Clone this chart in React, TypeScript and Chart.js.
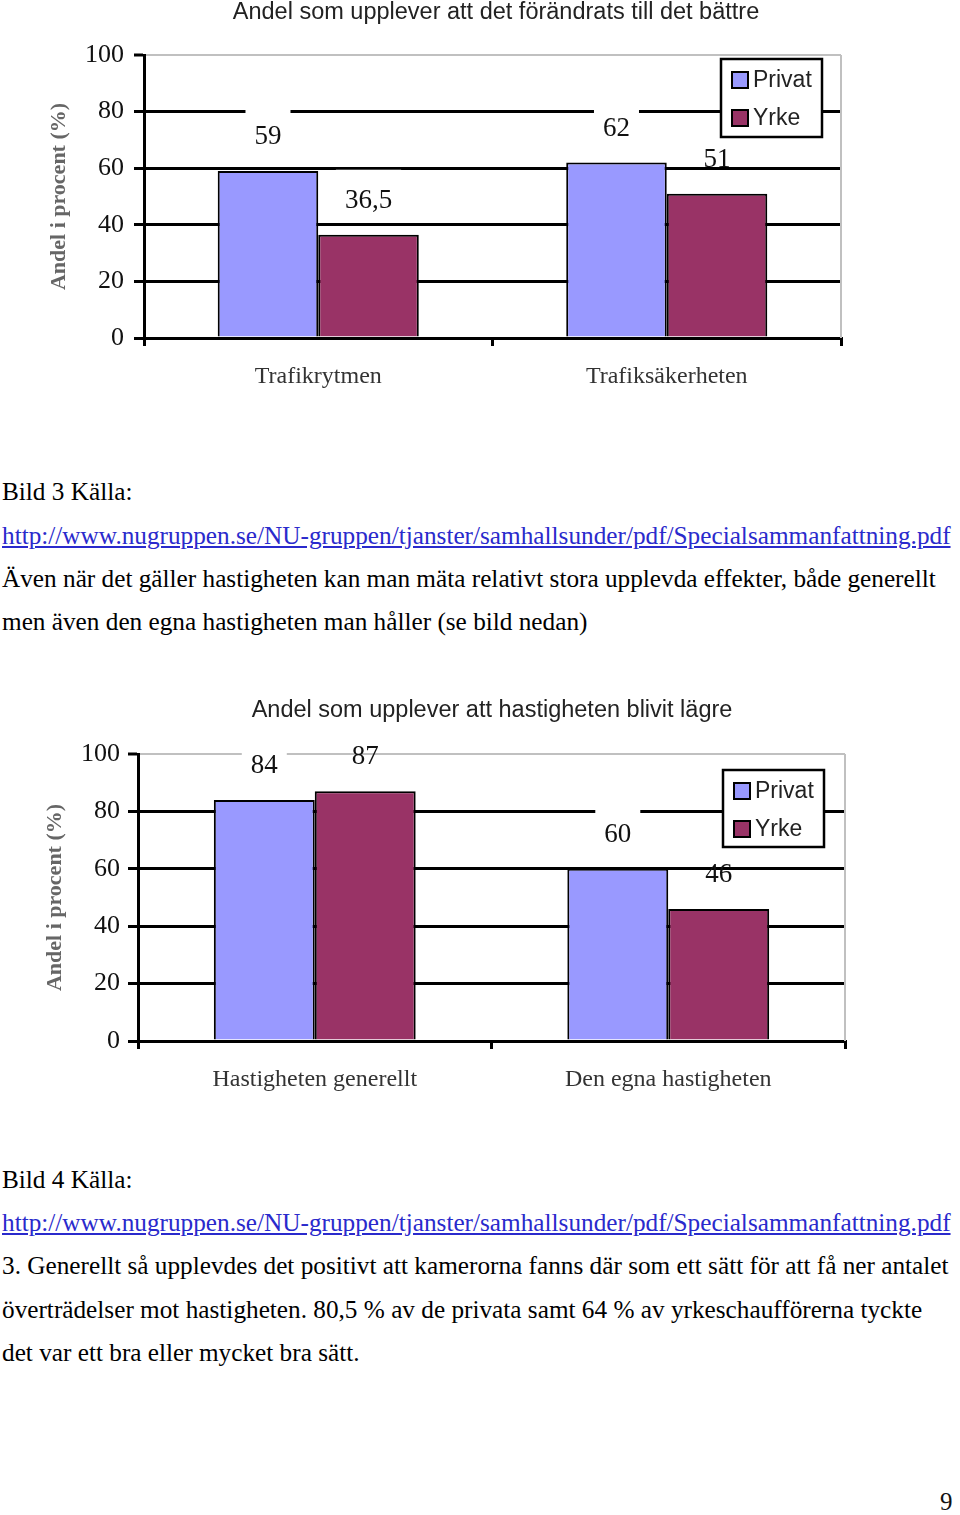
import React, { useEffect, useRef } from "react";
import { Chart, registerables } from "chart.js";

Chart.register(...registerables);

// ---------- data ----------
const chart1Title = "Andel som upplever att det förändrats till det bättre";
const chart1Categories = ["Trafikrytmen", "Trafiksäkerheten"];
const chart1Privat = [59, 62];
const chart1Yrke = [36.5, 51];

const chart2Title = "Andel som upplever att hastigheten blivit lägre";
const chart2Categories = ["Hastigheten generellt", "Den egna hastigheten"];
const chart2Privat = [84, 60];
const chart2Yrke = [87, 46];

const seriesNames = ["Privat", "Yrke"];
const seriesColors = ["#9999ff", "#993366"];
const yMin = 0;
const yMax = 100;
const yStep = 20;
const yAxisTitle = "Andel i procent (%)";

const text1Lines = [
  "Bild 3 Källa:",
  "LINK",
  "Även när det gäller hastigheten kan man mäta relativt stora upplevda effekter, både generellt",
  "men även den egna hastigheten man håller (se bild nedan)",
];
const text2Lines = [
  "Bild 4 Källa:",
  "LINK",
  "3. Generellt så upplevdes det positivt att kamerorna fanns där som ett sätt för att få ner antalet",
  "överträdelser mot hastigheten. 80,5 % av de privata samt 64 % av yrkeschaufförerna tyckte",
  "det var ett bra eller mycket bra sätt.",
];
const linkUrl = "http://www.nugruppen.se/NU-gruppen/tjanster/samhallsunder/pdf/Specialsammanfattning.pdf";
const pageNumber = "9";

const SERIF = "'Liberation Serif', 'Times New Roman', Times, serif";
const SANS = "'Liberation Sans', Arial, Helvetica, sans-serif";

type Layout = {
  top: number;
  height: number;
  plotTop: number;
  plotBottom: number;
  plotLeft: number;
  plotRight: number;
  titleX: number;
  titleY: number;
  yTitlePad: number;
  tickPad: number;
  xLabelPad: number;
  catPct: number;
  legend: { x: number; y: number; w: number; h: number };
};

function BarChart(props: {
  title: string;
  categories: string[];
  privat: number[];
  yrke: number[];
  layout: Layout;
}) {
  const ref = useRef<HTMLCanvasElement | null>(null);
  const { layout } = props;

  useEffect(() => {
    const canvas = ref.current;
    if (!canvas) return;
    const L = layout;

    const decor = {
      id: "decor",
      beforeDatasetsDraw(chart: any) {
        const { ctx, chartArea } = chart;
        ctx.save();
        ctx.strokeStyle = "#c0c0c0";
        ctx.lineWidth = 2;
        ctx.beginPath();
        ctx.moveTo(chartArea.right, chartArea.top);
        ctx.lineTo(chartArea.right, chartArea.bottom);
        ctx.stroke();
        ctx.restore();
      },
      afterDatasetsDraw(chart: any) {
        const { ctx } = chart;
        ctx.save();
        // data labels
        ctx.font = `27px ${SERIF}`;
        ctx.textAlign = "center";
        ctx.textBaseline = "middle";
        chart.data.datasets.forEach((ds: any, di: number) => {
          const meta = chart.getDatasetMeta(di);
          meta.data.forEach((el: any, i: number) => {
            const txt = String(ds.data[i]).replace(".", ",");
            const cy = el.y - 35;
            const w = ctx.measureText(txt).width;
            ctx.fillStyle = "#ffffff";
            ctx.fillRect(el.x - w / 2 - 9, cy - 30, w + 18, 21);
            ctx.fillStyle = "#111";
            ctx.fillText(txt, el.x, cy + 1);
          });
        });
        // title
        ctx.font = `23.5px ${SANS}`;
        ctx.fillStyle = "#222";
        ctx.textAlign = "center";
        ctx.textBaseline = "middle";
        ctx.fillText(props.title, L.titleX, L.titleY);
        // legend
        const lg = L.legend;
        ctx.fillStyle = "#fff";
        ctx.fillRect(lg.x, lg.y, lg.w, lg.h);
        ctx.strokeStyle = "#000";
        ctx.lineWidth = 2.5;
        ctx.strokeRect(lg.x, lg.y, lg.w, lg.h);
        ctx.font = `23px ${SANS}`;
        ctx.textAlign = "left";
        chart.data.datasets.forEach((ds: any, di: number) => {
          const cy = lg.y + 21 + di * 38;
          ctx.fillStyle = ds.backgroundColor;
          ctx.fillRect(lg.x + 11, cy - 8, 16, 16);
          ctx.strokeStyle = "#000";
          ctx.lineWidth = 2;
          ctx.strokeRect(lg.x + 11, cy - 8, 16, 16);
          ctx.fillStyle = "#222";
          ctx.fillText(ds.label, lg.x + 32, cy + 1);
        });
        ctx.restore();
      },
    };

    const chart = new Chart(canvas, {
      type: "bar",
      data: {
        labels: props.categories,
        datasets: [
          {
            label: seriesNames[0],
            data: props.privat,
            backgroundColor: seriesColors[0],
            borderColor: "#000",
            borderWidth: 2,
            barPercentage: 1,
            categoryPercentage: L.catPct,
          },
          {
            label: seriesNames[1],
            data: props.yrke,
            backgroundColor: seriesColors[1],
            borderColor: "#000",
            borderWidth: 2,
            barPercentage: 1,
            categoryPercentage: L.catPct,
          },
        ],
      },
      options: {
        responsive: false,
        animation: false,
        devicePixelRatio: 1,
        layout: {
          padding: { top: L.plotTop, right: 960 - L.plotRight, bottom: 0, left: 0 },
        },
        plugins: {
          legend: { display: false },
          title: { display: false },
          tooltip: { enabled: false },
        },
        scales: {
          x: {
            offset: true,
            grid: {
              display: true,
              offset: true,
              drawOnChartArea: false,
              drawTicks: true,
              tickLength: 8,
              color: "#000",
              lineWidth: 3,
            },
            border: { display: true, color: "#000", width: 3 },
            ticks: {
              padding: L.xLabelPad,
              color: "#333",
              font: { family: SERIF, size: 24 },
              maxRotation: 0,
              autoSkip: false,
            },
            afterFit: (s: any) => {
              s.height = L.height - L.plotBottom;
            },
          },
          y: {
            min: yMin,
            max: yMax,
            ticks: {
              stepSize: yStep,
              padding: L.tickPad,
              color: "#111",
              font: { family: SERIF, size: 26 },
            },
            grid: {
              color: (c: any) => (c.tick && c.tick.value === yMax ? "#c0c0c0" : "#000"),
              lineWidth: (c: any) => (c.tick && c.tick.value === yMax ? 2 : 3),
              tickLength: 10,
              tickColor: "#000",
              tickWidth: 3,
            },
            border: { display: true, color: "#000", width: 3 },
            title: {
              display: true,
              text: yAxisTitle,
              color: "#666",
              font: { family: SERIF, size: 22, weight: "bold" },
              padding: { top: L.yTitlePad, bottom: 0 },
            },
            afterFit: (s: any) => {
              s.width = L.plotLeft;
            },
          },
        },
      },
      plugins: [decor],
    } as any);

    return () => {
      chart.destroy();
    };
  }, []);

  return (
    <canvas
      ref={ref}
      width={960}
      height={layout.height}
      style={{ position: "absolute", left: 0, top: layout.top, width: 960, height: layout.height }}
    />
  );
}

const layout1: Layout = {
  top: 0,
  height: 450,
  plotTop: 55,
  plotBottom: 338,
  plotLeft: 144,
  plotRight: 841,
  titleX: 496,
  titleY: 13,
  yTitlePad: 46,
  tickPad: 10,
  xLabelPad: 16,
  catPct: 0.577,
  legend: { x: 721, y: 59, w: 101, h: 78 },
};

const layout2: Layout = {
  top: 690,
  height: 440,
  plotTop: 64,
  plotBottom: 351,
  plotLeft: 138,
  plotRight: 845,
  titleX: 492,
  titleY: 21,
  yTitlePad: 42,
  tickPad: 8,
  xLabelPad: 16,
  catPct: 0.571,
  legend: { x: 723, y: 80, w: 101, h: 77 },
};

function TextBlock(props: { lines: string[]; centers: number[] }) {
  return (
    <>
      {props.lines.map((ln, i) => (
        <div
          key={i}
          style={{
            position: "absolute",
            left: 2,
            top: props.centers[i] - 16,
            fontFamily: SERIF,
            fontSize: 25.25,
            lineHeight: "30px",
            whiteSpace: "nowrap",
            color: ln === "LINK" ? "#2a2acc" : "#000",
            textDecoration: ln === "LINK" ? "underline" : "none",
          }}
        >
          {ln === "LINK" ? linkUrl : ln}
        </div>
      ))}
    </>
  );
}

export default function App() {
  return (
    <div
      style={{
        position: "absolute",
        left: 0,
        top: 0,
        width: 960,
        height: 1515,
        background: "#fff",
        overflow: "hidden",
      }}
    >
      <BarChart
        title={chart1Title}
        categories={chart1Categories}
        privat={chart1Privat}
        yrke={chart1Yrke}
        layout={layout1}
      />
      <TextBlock lines={text1Lines} centers={[492, 536, 579, 622]} />
      <BarChart
        title={chart2Title}
        categories={chart2Categories}
        privat={chart2Privat}
        yrke={chart2Yrke}
        layout={layout2}
      />
      <TextBlock lines={text2Lines} centers={[1180, 1223, 1266, 1310, 1353]} />
      <div
        style={{
          position: "absolute",
          left: 940,
          top: 1488,
          fontFamily: SERIF,
          fontSize: 25,
          lineHeight: "28px",
          color: "#111",
        }}
      >
        {pageNumber}
      </div>
    </div>
  );
}
